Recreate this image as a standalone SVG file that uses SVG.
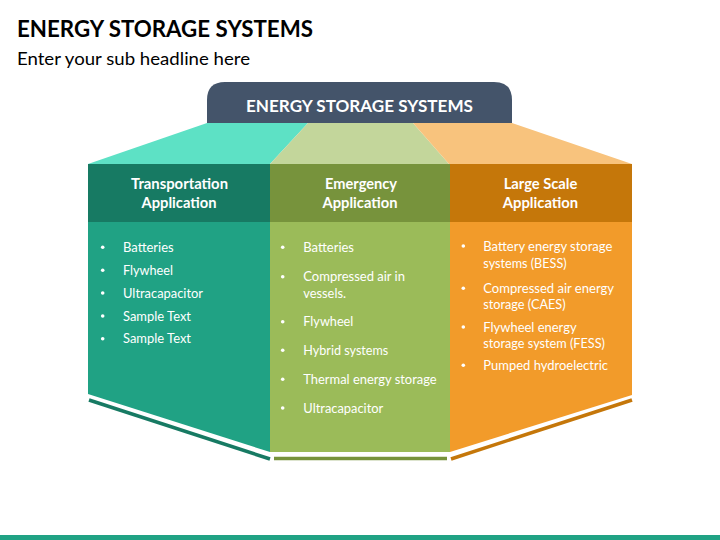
<svg xmlns="http://www.w3.org/2000/svg" width="720" height="540" viewBox="0 0 720 540">
<style>
.t{font-family:Lato,"Open Sans","Liberation Sans",sans-serif;}
.title{font-size:23.5px;font-weight:700;fill:#000;}
.sub{font-size:17.5px;fill:#000;}
.hdr{font-size:17px;font-weight:700;fill:#fff;}
.col{font-size:14.5px;font-weight:700;fill:#fff;text-anchor:middle;}
.b{font-size:13px;fill:#fff;}
.dot{fill:#fff;}
.ln{fill:none;stroke-width:3.5;stroke-linecap:butt;}
</style>
<rect width="720" height="540" fill="#ffffff"/>
<text class="t title" x="17" y="36.5" textLength="296" lengthAdjust="spacingAndGlyphs">ENERGY STORAGE SYSTEMS</text>
<text class="t sub" x="17" y="65" textLength="233" lengthAdjust="spacingAndGlyphs">Enter your sub headline here</text>

<g id="top-header">
<path d="M207,123 V100 Q207,82 225,82 H494 Q512,82 512,100 V123 Z" fill="#44546A"/>
<text class="t hdr" x="246" y="111.5" textLength="227" lengthAdjust="spacingAndGlyphs">ENERGY STORAGE SYSTEMS</text>
</g>

<g id="transportation">
<polygon points="207,123 308,123 270,164 88,164" fill="#5DE1C5"/>
<rect x="88" y="164" width="182" height="58" fill="#177A63"/>
<polygon points="88,222 270,222 270,452 88,394" fill="#20A284"/>
<text class="t col" x="179.5" y="189" textLength="97" lengthAdjust="spacingAndGlyphs">Transportation</text>
<text class="t col" x="179" y="207.7" textLength="75" lengthAdjust="spacingAndGlyphs">Application</text>
<g class="dot">
<circle cx="102.7" cy="247.3" r="1.8"/>
<circle cx="102.7" cy="270.3" r="1.8"/>
<circle cx="102.7" cy="293" r="1.8"/>
<circle cx="102.7" cy="316" r="1.8"/>
<circle cx="102.7" cy="338.7" r="1.8"/>
</g>
<text class="t b" x="123" y="251.8" textLength="50.7" lengthAdjust="spacingAndGlyphs">Batteries</text>
<text class="t b" x="123" y="274.8" textLength="50" lengthAdjust="spacingAndGlyphs">Flywheel</text>
<text class="t b" x="123" y="297.5" textLength="80" lengthAdjust="spacingAndGlyphs">Ultracapacitor</text>
<text class="t b" x="123" y="320.5" textLength="68" lengthAdjust="spacingAndGlyphs">Sample Text</text>
<text class="t b" x="123" y="343.2" textLength="68" lengthAdjust="spacingAndGlyphs">Sample Text</text>
</g>

<g id="emergency">
<polygon points="308,123 413,123 449,164 270,164" fill="#C3D69B"/>
<rect x="270" y="164" width="180" height="58" fill="#77933C"/>
<polygon points="270,222 450,222 450,452 270,452" fill="#9BBB59"/>
<text class="t col" x="361" y="189" textLength="72" lengthAdjust="spacingAndGlyphs">Emergency</text>
<text class="t col" x="360" y="207.7" textLength="75" lengthAdjust="spacingAndGlyphs">Application</text>
<g class="dot">
<circle cx="282.7" cy="247.3" r="1.8"/>
<circle cx="282.7" cy="276.7" r="1.8"/>
<circle cx="282.7" cy="321.7" r="1.8"/>
<circle cx="282.7" cy="350.3" r="1.8"/>
<circle cx="282.7" cy="379.3" r="1.8"/>
<circle cx="282.7" cy="408" r="1.8"/>
</g>
<text class="t b" x="303.3" y="251.8" textLength="50.7" lengthAdjust="spacingAndGlyphs">Batteries</text>
<text class="t b" x="303.3" y="281.2" textLength="101.7" lengthAdjust="spacingAndGlyphs">Compressed air in</text>
<text class="t b" x="303.3" y="297.5" textLength="42.7" lengthAdjust="spacingAndGlyphs">vessels.</text>
<text class="t b" x="303.3" y="326.2" textLength="50" lengthAdjust="spacingAndGlyphs">Flywheel</text>
<text class="t b" x="303.3" y="354.8" textLength="85" lengthAdjust="spacingAndGlyphs">Hybrid systems</text>
<text class="t b" x="303.3" y="383.8" textLength="133.3" lengthAdjust="spacingAndGlyphs">Thermal energy storage</text>
<text class="t b" x="303.3" y="412.5" textLength="80" lengthAdjust="spacingAndGlyphs">Ultracapacitor</text>
</g>

<g id="large-scale">
<polygon points="413,123 512,123 632,164 449,164" fill="#F8C37D"/>
<rect x="450" y="164" width="182" height="58" fill="#C5770A"/>
<polygon points="450,222 632,222 632,395 450,452" fill="#F29B2A"/>
<text class="t col" x="540.5" y="189" textLength="73.6" lengthAdjust="spacingAndGlyphs">Large Scale</text>
<text class="t col" x="540.5" y="207.7" textLength="75.4" lengthAdjust="spacingAndGlyphs">Application</text>
<g class="dot">
<circle cx="463.3" cy="246" r="1.8"/>
<circle cx="463.3" cy="288.3" r="1.8"/>
<circle cx="463.3" cy="327" r="1.8"/>
<circle cx="463.3" cy="365.3" r="1.8"/>
</g>
<text class="t b" x="483.3" y="250.5" textLength="129" lengthAdjust="spacingAndGlyphs">Battery energy storage</text>
<text class="t b" x="483.3" y="267.8" textLength="83.3" lengthAdjust="spacingAndGlyphs">systems (BESS)</text>
<text class="t b" x="483.3" y="292.8" textLength="130.7" lengthAdjust="spacingAndGlyphs">Compressed air energy</text>
<text class="t b" x="483.3" y="308.8" textLength="82.3" lengthAdjust="spacingAndGlyphs">storage (CAES)</text>
<text class="t b" x="483.3" y="331.5" textLength="93.3" lengthAdjust="spacingAndGlyphs">Flywheel energy</text>
<text class="t b" x="483.3" y="347.8" textLength="121.7" lengthAdjust="spacingAndGlyphs">storage system (FESS)</text>
<text class="t b" x="483.3" y="369.8" textLength="124.7" lengthAdjust="spacingAndGlyphs">Pumped hydroelectric</text>
</g>

<g id="base-lines">
<line class="ln" x1="89" y1="400" x2="270" y2="459" stroke="#177A63"/>
<line class="ln" x1="274" y1="458.5" x2="447" y2="458.5" stroke="#77933C"/>
<line class="ln" x1="451" y1="459" x2="632" y2="400" stroke="#C5770A"/>
</g>

<rect x="0" y="535" width="720" height="5" fill="#20A284"/>
</svg>
